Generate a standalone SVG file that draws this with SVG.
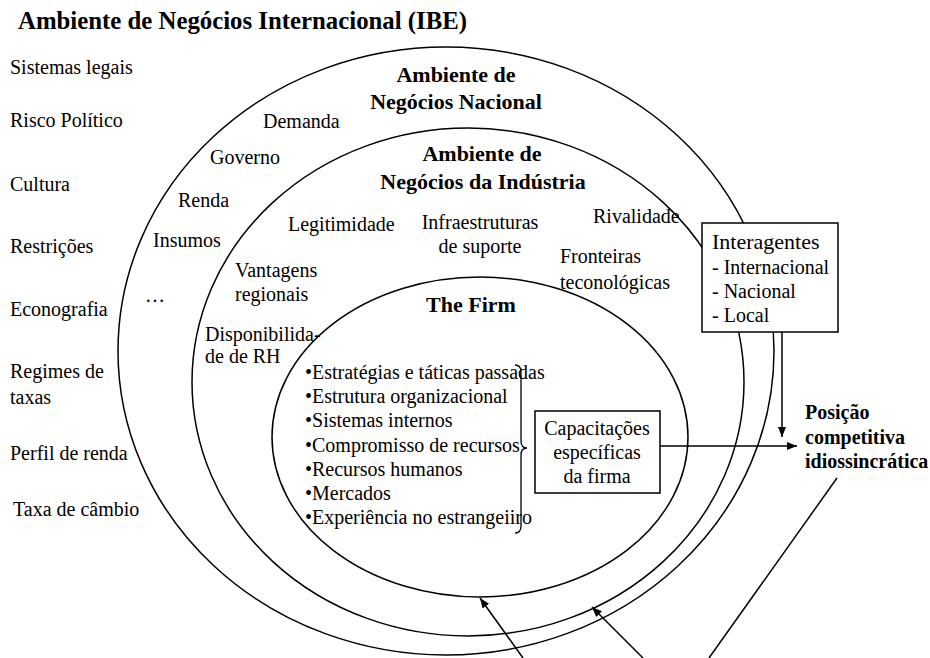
<svg xmlns="http://www.w3.org/2000/svg" width="930" height="658" viewBox="0 0 930 658" font-family="Liberation Serif" font-size="20" fill="#000">
<defs>
  <marker id="arr" viewBox="0 0 10 8" refX="10" refY="4" markerWidth="10" markerHeight="8" markerUnits="userSpaceOnUse" orient="auto">
    <path d="M0,0 L10,4 L0,8 Z" fill="#000"/>
  </marker>
</defs>
<rect width="930" height="658" fill="#fff"/>

<g id="title" font-size="24.8" font-weight="bold">
  <text x="18" y="29">Ambiente de Negócios Internacional (IBE)</text>
</g>

<g id="ibe-factors" font-size="20">
  <text x="10" y="74">Sistemas legais</text>
  <text x="10" y="127">Risco Político</text>
  <text x="10" y="191">Cultura</text>
  <text x="10" y="253">Restrições</text>
  <text x="10" y="316">Econografia</text>
  <text x="10" y="378">Regimes de</text>
  <text x="10" y="404">taxas</text>
  <text x="10" y="460">Perfil de renda</text>
  <text x="13" y="516">Taxa de câmbio</text>
</g>

<g id="national" font-size="20">
  <ellipse cx="446" cy="351" rx="328" ry="304" fill="none" stroke="#000" stroke-width="1.5"/>
  <g font-size="22" font-weight="bold" text-anchor="middle">
    <text x="456" y="82">Ambiente de</text>
    <text x="456" y="109">Negócios Nacional</text>
  </g>
  <text x="263" y="128">Demanda</text>
  <text x="210" y="164">Governo</text>
  <text x="178" y="207">Renda</text>
  <text x="153" y="247">Insumos</text>
  <text x="145" y="302">…</text>
</g>

<g id="industry" font-size="20">
  <ellipse cx="468" cy="382" rx="276" ry="254" fill="none" stroke="#000" stroke-width="1.5"/>
  <g font-size="22" font-weight="bold" text-anchor="middle">
    <text x="482" y="161">Ambiente de</text>
    <text x="483" y="189">Negócios da Indústria</text>
  </g>
  <text x="288" y="231">Legitimidade</text>
  <text x="480" y="229" text-anchor="middle">Infraestruturas</text>
  <text x="480" y="253" text-anchor="middle">de suporte</text>
  <text x="593" y="223">Rivalidade</text>
  <text x="560" y="263">Fronteiras</text>
  <text x="560" y="289">teconológicas</text>
  <text x="235" y="277">Vantagens</text>
  <text x="235" y="301">regionais</text>
  <text x="205" y="341">Disponibilida-</text>
  <text x="205" y="363">de de RH</text>
</g>

<g id="firm" font-size="20">
  <ellipse cx="480" cy="437" rx="208" ry="160" fill="none" stroke="#000" stroke-width="1.5"/>
  <text x="471" y="312" font-size="22" font-weight="bold" text-anchor="middle">The Firm</text>
  <text x="305" y="379">•Estratégias e táticas passadas</text>
  <text x="305" y="403">•Estrutura organizacional</text>
  <text x="305" y="427">•Sistemas internos</text>
  <text x="305" y="452">•Compromisso de recursos</text>
  <text x="305" y="476">•Recursos humanos</text>
  <text x="305" y="500">•Mercados</text>
  <text x="305" y="524">•Experiência no estrangeiiro</text>
  <path fill="none" stroke="#000" stroke-width="1.3" d="M515,365 Q521,365 521,372 L521,441 Q521,448 527,448 Q521,448 521,455 L521,526 Q521,533 515,533"/>
</g>

<g id="capacitacoes" font-size="20">
  <rect x="535" y="411" width="125" height="82" fill="#fff" stroke="#000" stroke-width="1.5"/>
  <g text-anchor="middle">
    <text x="597" y="435">Capacitações</text>
    <text x="597" y="459">específicas</text>
    <text x="597" y="483">da firma</text>
  </g>
</g>

<g id="interagentes" font-size="20">
  <rect x="702" y="223" width="136" height="109" fill="#fff" stroke="#000" stroke-width="1.5"/>
  <text x="712" y="249" font-size="22">Interagentes</text>
  <text x="712" y="274">- Internacional</text>
  <text x="712" y="298">- Nacional</text>
  <text x="712" y="322">- Local</text>
</g>

<g id="posicao" font-size="20" font-weight="bold">
  <text x="805" y="419">Posição</text>
  <text x="805" y="444">competitiva</text>
  <text x="805" y="468">idiossincrática</text>
</g>

<g id="connectors" fill="none" stroke="#000" stroke-width="1.5">
  <line x1="660" y1="446" x2="797" y2="446" marker-end="url(#arr)"/>
  <line x1="782" y1="332" x2="782" y2="437" marker-end="url(#arr)"/>
  <line x1="523" y1="658" x2="480" y2="598" marker-end="url(#arr)"/>
  <line x1="643" y1="658" x2="592" y2="607" marker-end="url(#arr)"/>
  <line x1="709" y1="658" x2="837" y2="478"/>
</g>
</svg>
